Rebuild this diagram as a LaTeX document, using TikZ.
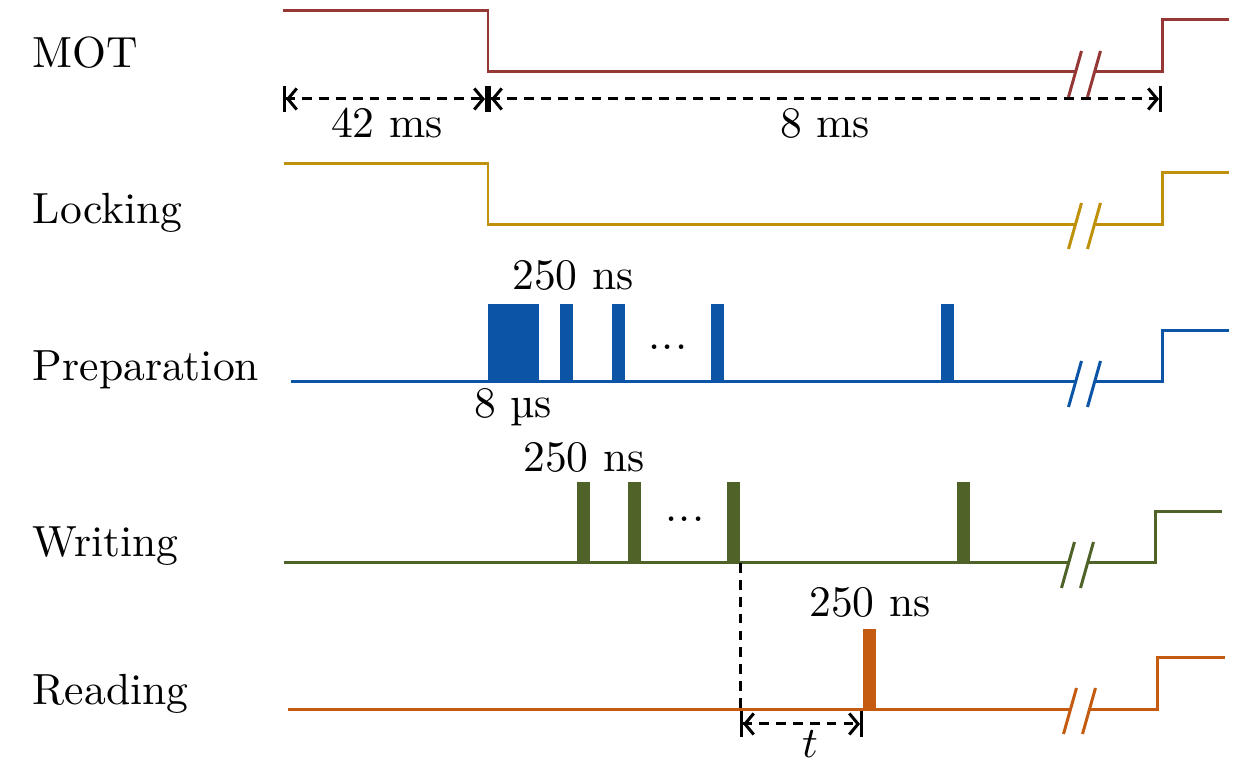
\documentclass[tikz,border=0pt]{standalone}
\usetikzlibrary{arrows.meta}
\definecolor{motc}{RGB}{149,55,53}
\definecolor{lockc}{RGB}{191,144,10}
\definecolor{prepc}{RGB}{12,84,166}
\definecolor{writec}{RGB}{79,98,40}
\definecolor{readc}{RGB}{197,90,17}
\begin{document}
\begin{tikzpicture}[x=0.01cm, y=-0.01cm,
    every node/.style={font=\fontsize{10}{12}\selectfont, scale=1.24, inner sep=0pt},
    lbl/.style={anchor=base west},
    num/.style={anchor=base},
    sig/.style={line width=0.85pt},
    dashline/.style={line width=0.85pt, dash pattern=on 2.8pt off 2pt},
    dim/.style={dashline, arrows={Bar[width=7.5pt]Straight Barb[length=2.5pt,width=6pt]-Straight Barb[length=2.5pt,width=6pt]Bar[width=7.5pt]}}]
    \useasboundingbox (0,0) rectangle (1260,780);

    % channel names
    \node[lbl] (mot) at (32,68) {MOT};
    \node[lbl] (lock) at (32,224) {Locking};
    \node[lbl] (prep) at (32,381) {Preparation};
    \node[lbl] (write) at (32,557) {Writing};
    \node[lbl] (read) at (32,705) {Reading};

    % MOT
    \draw[sig, motc] (283,11) -- (488,11) -- (488,72) -- (1075,72);
    \draw[sig, motc] (1094,72) -- (1162,72) -- (1162,20) -- (1229,20);

    % Locking
    \draw[sig, lockc] (284,164) -- (488,164) -- (488,225) -- (1075,225);
    \draw[sig, lockc] (1094,225) -- (1162,225) -- (1162,173) -- (1229,173);

    % Preparation
    \draw[sig, prepc] (291,382) -- (1075,382);
    \draw[sig, prepc] (1094,382) -- (1162,382) -- (1162,331) -- (1229,331);
    \fill[prepc] (488,304) rectangle (539,382);
    \fill[prepc] (560,304) rectangle (573,382);
    \fill[prepc] (612,304) rectangle (625,382);
    \fill[prepc] (711,304) rectangle (724,382);
    \fill[prepc] (941,304) rectangle (954,382);
    \node[num] (pdots) at (668,350) {.\kern0.4pt.\kern0.4pt.};
    \node[num] (p250) at (573,290) {250 ns};
    \node[num] (p8) at (513,418) {8 µs};

    % Writing
    \draw[sig, writec] (284,563) -- (1068,563);
    \draw[sig, writec] (1087,563) -- (1155,563) -- (1155,512) -- (1222,512);
    \fill[writec] (577,482) rectangle (590,563);
    \fill[writec] (628,482) rectangle (641,563);
    \fill[writec] (727,482) rectangle (740,563);
    \fill[writec] (957,482) rectangle (970,563);
    \node[num] (wdots) at (685,522) {.\kern0.4pt.\kern0.4pt.};
    \node[num] (w250) at (584,472) {250 ns};

    % Reading
    \draw[sig, readc] (288,710) -- (1070,710);
    \draw[sig, readc] (1089,710) -- (1157,710) -- (1157,658) -- (1225,658);
    \fill[readc] (863,629) rectangle (876,710);
    \node[num] (r250) at (870,617) {250 ns};

    % breaks
    \foreach \c/\x/\y in {motc/1075/74, lockc/1075/226, prepc/1075/384, writec/1068/565, readc/1070/711} {
        \draw[sig, \c] (\x-6.5,\y+23) -- (\x+6.5,\y-23);
        \draw[sig, \c] (\x+12.5,\y+23) -- (\x+25.5,\y-23);
    }

    % durations
    \coordinate (d0) at (283,99);
    \coordinate (d1) at (488,99);
    \coordinate (d2) at (1162,99);
    \draw[dim] (d0) -- (d1);
    \draw[dim] (d1) -- (d2);
    \node[num] (t42) at (387,138) {42 ms};
    \node[num] (t8) at (825,138) {8 ms};

    \coordinate (w3) at (740,563);
    \coordinate (r0) at (740,710);
    \draw[dashline] (w3) -- (r0);
    \coordinate (t0) at (740,724);
    \coordinate (t1) at (863,724);
    \draw[dim] (t0) -- (t1);
    \node[num] (tt) at (810,758) {$t$};
\end{tikzpicture}
\end{document}
